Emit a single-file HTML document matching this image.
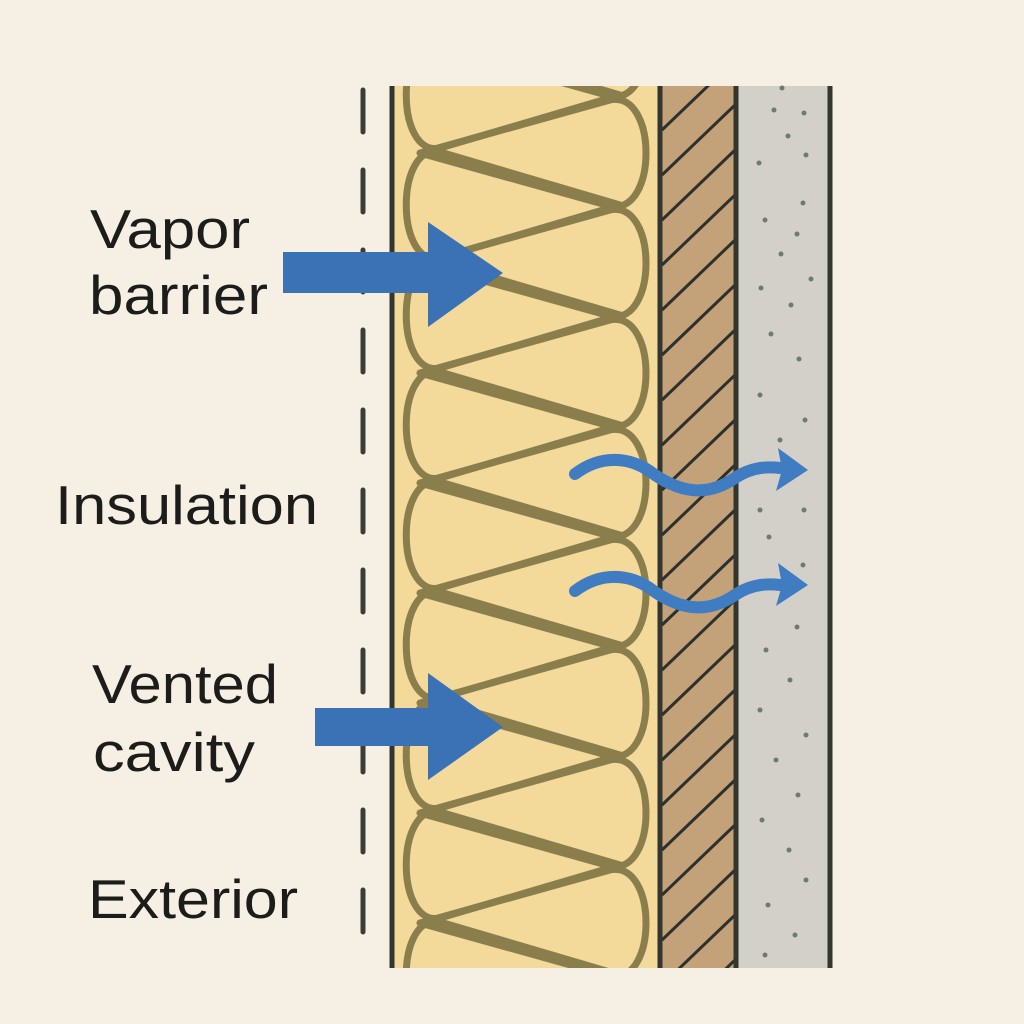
<!DOCTYPE html>
<html><head><meta charset="utf-8"><style>
html,body{margin:0;padding:0;background:#f6f0e4;}
svg{display:block}
text{font-family:"Liberation Sans",sans-serif;fill:#1c1c1a;font-size:55px}
</style></head><body>
<svg width="1024" height="1024" viewBox="0 0 1024 1024" xmlns="http://www.w3.org/2000/svg">
<defs>
<clipPath id="ins"><rect x="393" y="86" width="266" height="882"/></clipPath>
<clipPath id="hat"><rect x="662" y="86" width="73" height="882"/></clipPath>
</defs>
<rect width="1024" height="1024" fill="#f6f0e4"/>
<line x1="363" y1="90" x2="363" y2="968" stroke="#3a3d38" stroke-width="5" stroke-linecap="round" stroke-dasharray="42 38"/>
<rect x="393" y="86" width="266" height="882" fill="#f3d99a"/>
<g clip-path="url(#ins)" fill="none" stroke="#8a7f4c" stroke-width="7" stroke-linejoin="round">
<path d="M620,95 L440,42 C395,32 395,158 440,148 Z"/>
<path d="M620,205 L440,152 C395,142 395,268 440,258 Z"/>
<path d="M620,315 L440,262 C395,252 395,378 440,368 Z"/>
<path d="M620,425 L440,372 C395,362 395,488 440,478 Z"/>
<path d="M620,535 L440,482 C395,472 395,598 440,588 Z"/>
<path d="M620,645 L440,592 C395,582 395,708 440,698 Z"/>
<path d="M620,755 L440,702 C395,692 395,818 440,808 Z"/>
<path d="M620,865 L440,812 C395,802 395,928 440,918 Z"/>
<path d="M620,975 L440,922 C395,912 395,1038 440,1028 Z"/>
<path d="M420,43 L610,-10 C658,-20 658,106 610,96 Z"/>
<path d="M420,153 L610,100 C658,90 658,216 610,206 Z"/>
<path d="M420,263 L610,210 C658,200 658,326 610,316 Z"/>
<path d="M420,373 L610,320 C658,310 658,436 610,426 Z"/>
<path d="M420,483 L610,430 C658,420 658,546 610,536 Z"/>
<path d="M420,593 L610,540 C658,530 658,656 610,646 Z"/>
<path d="M420,703 L610,650 C658,640 658,766 610,756 Z"/>
<path d="M420,813 L610,760 C658,750 658,876 610,866 Z"/>
<path d="M420,923 L610,870 C658,860 658,986 610,976 Z"/>
</g>
<rect x="662" y="86" width="73" height="882" fill="#c3a27a"/>
<g clip-path="url(#hat)" stroke="#2e302c" stroke-width="3">
<path d="M662,130 L735,60 M662,175 L735,105 M662,220 L735,150 M662,265 L735,195 M662,310 L735,240 M662,355 L735,285 M662,400 L735,330 M662,445 L735,375 M662,490 L735,420 M662,535 L735,465 M662,580 L735,510 M662,625 L735,555 M662,670 L735,600 M662,715 L735,645 M662,760 L735,690 M662,805 L735,735 M662,850 L735,780 M662,895 L735,825 M662,940 L735,870 M662,985 L735,915 M662,1030 L735,960"/>
</g>
<rect x="737" y="86" width="93" height="882" fill="#d3d0c9"/>
<g fill="#6f7a72">
<circle cx="782" cy="88" r="2.5"/><circle cx="774" cy="110" r="2.5"/><circle cx="804" cy="113" r="2.5"/><circle cx="788" cy="136" r="2.5"/><circle cx="806" cy="155" r="2.5"/><circle cx="759" cy="163" r="2.5"/><circle cx="803" cy="203" r="2.5"/><circle cx="765" cy="220" r="2.5"/><circle cx="797" cy="234" r="2.5"/><circle cx="781" cy="254" r="2.5"/><circle cx="811" cy="279" r="2.5"/><circle cx="761" cy="288" r="2.5"/><circle cx="791" cy="305" r="2.5"/><circle cx="771" cy="334" r="2.5"/><circle cx="799" cy="359" r="2.5"/><circle cx="760" cy="395" r="2.5"/><circle cx="805" cy="420" r="2.5"/><circle cx="780" cy="440" r="2.5"/><circle cx="760" cy="510" r="2.5"/><circle cx="804" cy="510" r="2.5"/><circle cx="769" cy="537" r="2.5"/><circle cx="803" cy="565" r="2.5"/><circle cx="797" cy="627" r="2.5"/><circle cx="766" cy="650" r="2.5"/><circle cx="790" cy="680" r="2.5"/><circle cx="760" cy="710" r="2.5"/><circle cx="806" cy="735" r="2.5"/><circle cx="776" cy="760" r="2.5"/><circle cx="798" cy="795" r="2.5"/><circle cx="762" cy="820" r="2.5"/><circle cx="789" cy="850" r="2.5"/><circle cx="806" cy="880" r="2.5"/><circle cx="768" cy="905" r="2.5"/><circle cx="795" cy="935" r="2.5"/><circle cx="765" cy="955" r="2.5"/>
</g>
<g stroke="#33362f" stroke-width="5">
<line x1="392" y1="86" x2="392" y2="968"/>
<line x1="660" y1="86" x2="660" y2="968"/>
<line x1="736" y1="86" x2="736" y2="968"/>
<line x1="830" y1="86" x2="830" y2="968"/>
</g>
<polygon points="283,252 428,252 428,222 503,273 428,327 428,293 283,293" fill="#3a72b5"/>
<polygon points="315,708 428,708 428,673 503,727 428,780 428,746 315,746" fill="#3a72b5"/>
<g fill="none" stroke="#3f7cc2" stroke-width="12" stroke-linecap="round">
<path d="M575,474 C600,455 630,455 655,475 C685,495 710,495 735,478 C750,468 765,466 780,468"/>
<path d="M575,591 C600,572 630,572 655,592 C685,612 710,612 735,595 C750,585 765,583 780,585"/>
</g>
<polygon points="778,448 808,470 776,491 782,470" fill="#3f7cc2"/>
<polygon points="778,563 808,585 776,606 782,585" fill="#3f7cc2"/>
<text x="90" y="248" textLength="160" lengthAdjust="spacingAndGlyphs">Vapor</text>
<text x="89" y="314" textLength="179" lengthAdjust="spacingAndGlyphs">barrier</text>
<text x="55" y="524" textLength="263" lengthAdjust="spacingAndGlyphs">Insulation</text>
<text x="92" y="703" textLength="186" lengthAdjust="spacingAndGlyphs">Vented</text>
<text x="93" y="771" textLength="162" lengthAdjust="spacingAndGlyphs">cavity</text>
<text x="88" y="918" textLength="210" lengthAdjust="spacingAndGlyphs">Exterior</text>
</svg>
</body></html>
